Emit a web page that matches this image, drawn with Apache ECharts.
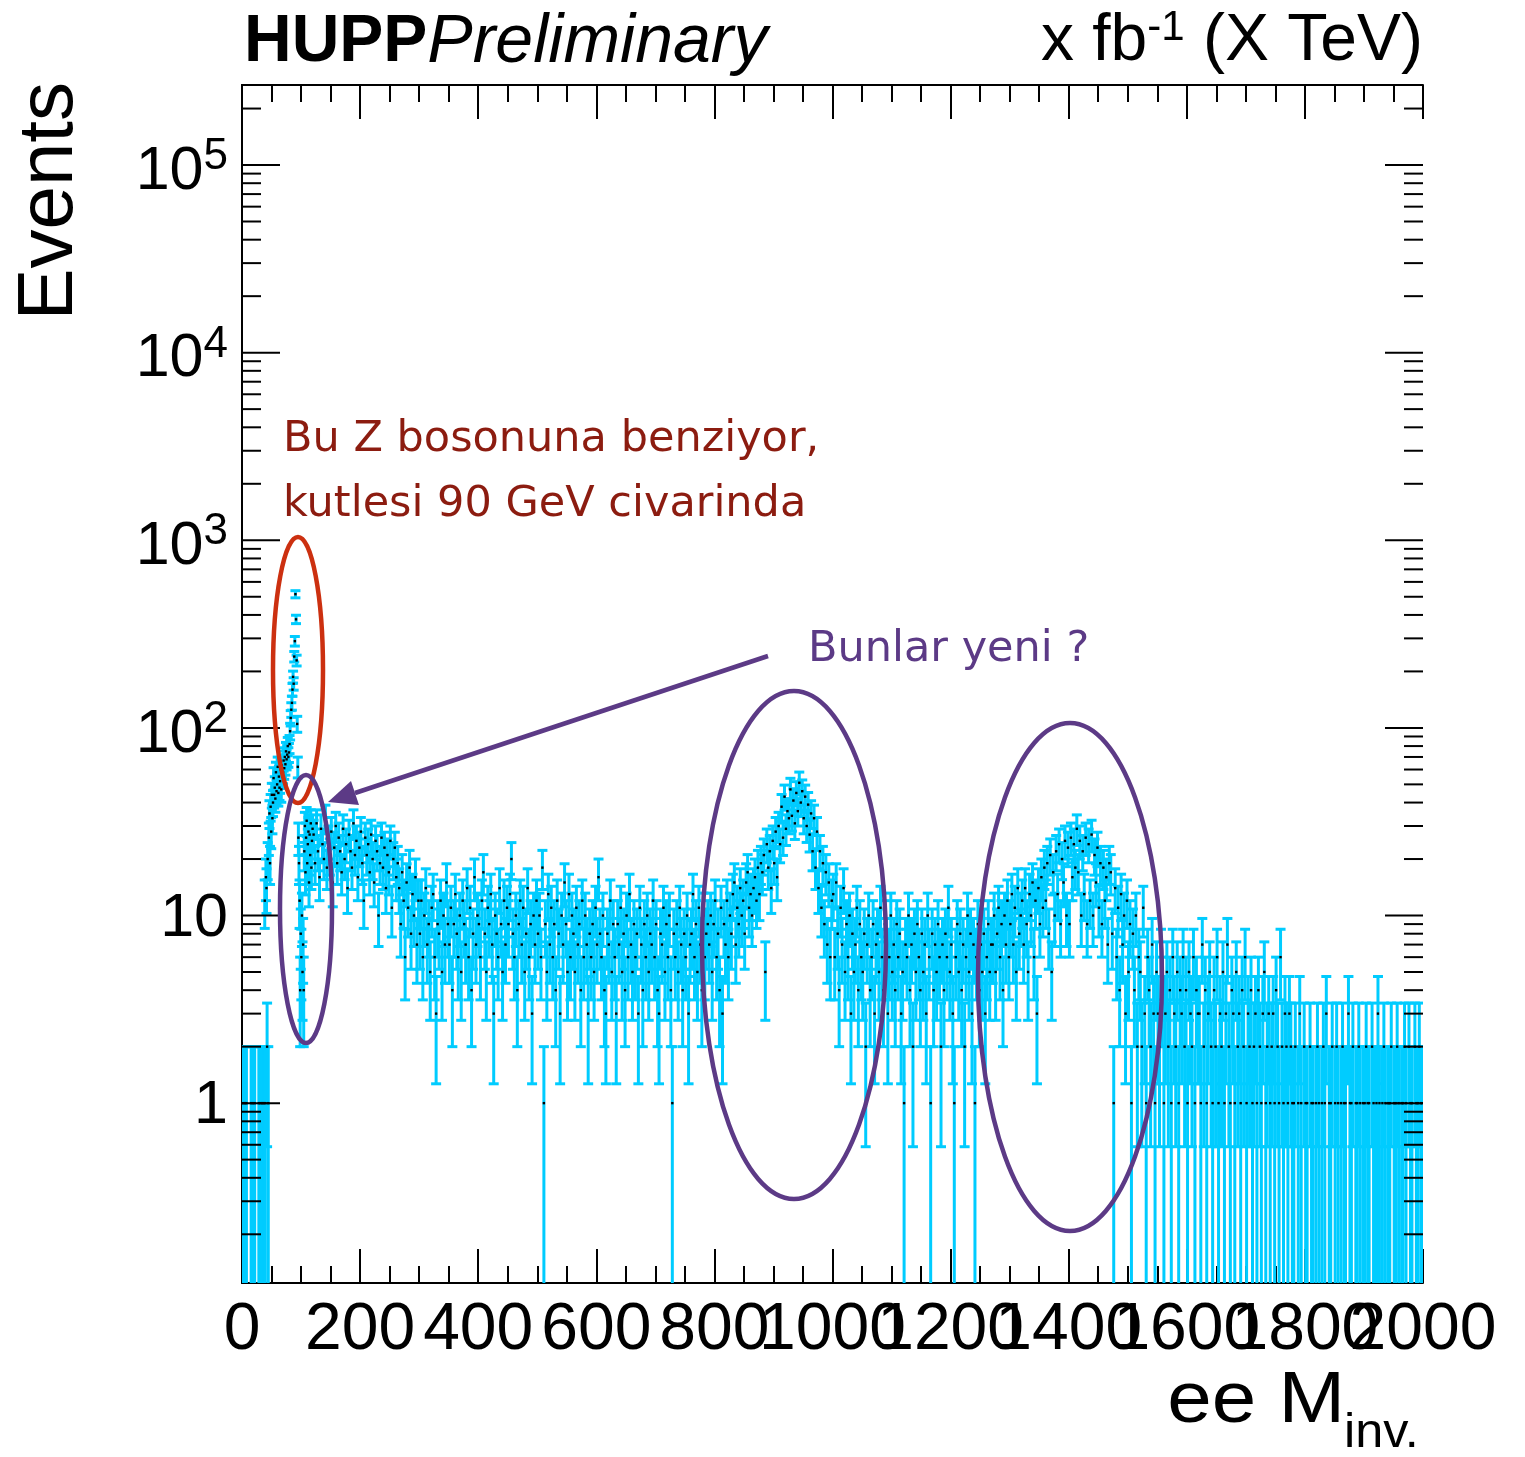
<!DOCTYPE html>
<html>
<head>
<meta charset="utf-8">
<title>ee M_inv.</title>
<script src="https://cdn.jsdelivr.net/npm/echarts@6/dist/echarts.min.js"></script>
<style>
  html, body { margin: 0; padding: 0; background: #fff; }
  #chart { width: 1525px; height: 1457px; }
</style>
</head>
<body>
<div id="chart"></div>
<script>
// event counts per bin (1 GeV bins below 120 GeV, 2.5 GeV bins above)
const countsLow = [ // 0-50 GeV
  1, 0, 1, 0, 0, 1, 0, 1, 0, 0, 0, 0, 0, 0, 0, 1, 0, 0, 1, 0,
  0, 1, 0, 0, 0, 0, 0, 0, 1, 0, 0, 1, 0, 0, 1, 0, 1, 0, 12, 1,
  16, 14, 2, 20, 1, 26, 35, 19, 38, 28
];
const countsZ = [ // 50-120 GeV
  44, 33, 40, 54, 44, 48, 42, 58, 46, 50, 62, 45, 55, 48, 52, 60, 47, 63, 55, 58,
  67, 61, 70, 64, 75, 68, 72, 80, 70, 74, 82, 96, 113, 125, 136, 160, 187, 172, 240, 290,
  516, 379, 229, 105, 62, 26, 19, 12, 4, 8, 6, 10, 5, 7, 4, 22, 30, 17, 26, 32,
  19, 24, 28, 15, 27, 21, 31, 18, 25, 29
];
const countsDY = [ // 120-560 GeV
  27, 19, 31, 22, 16, 29, 24, 20, 33, 18, 25, 21, 28, 15, 23, 30, 19, 26, 22, 17,
  29, 20, 24, 14, 27, 22, 18, 31, 21, 25, 16, 23, 28, 19, 12, 26, 21, 24, 17, 27,
  20, 15, 25, 22, 10, 19, 26, 18, 23, 14, 21, 17, 25, 11, 20, 23, 16, 19,
  14, 9, 17, 12, 6, 15, 11, 18, 8, 13, 10, 16, 7, 12,
  8, 12, 6, 10, 14, 7, 9, 5, 11, 13, 6, 3, 9, 8, 12, 5, 10, 7, 15, 9,
  7, 11, 4, 9, 13, 8, 6, 10, 5, 12, 9, 7, 14, 6, 11, 4, 8, 16, 7, 10,
  9, 6, 12, 17, 8, 5, 11, 9, 13, 7, 3, 10, 8, 6, 14, 9, 5, 12, 7, 11,
  9, 13, 20, 8, 6, 10, 4, 9, 12, 7, 11, 5, 8, 14, 6, 9, 3, 10, 7, 12,
  8, 10, 6, 18, 1, 9, 5, 13, 7, 11, 6, 9, 4, 12, 8, 3, 10, 7, 15, 9,
  5, 13, 6, 10
];
const countsFlat1 = [ // 560-790 GeV
  8, 5, 11, 7, 9, 4, 12, 6, 10, 7, 3, 8, 6, 9, 5, 11, 7, 16, 8, 6,
  10, 4, 3, 8, 7, 12, 5, 9, 6, 3, 9, 7, 11, 5, 8, 4, 10, 6, 13, 7,
  5, 9, 6, 8, 3, 11, 7, 4, 9, 6, 10, 5, 8, 7, 12, 6, 9, 4, 3, 8,
  7, 11, 5, 9, 6, 10, 4, 1, 8, 6, 9, 5, 11, 7, 4, 8, 6, 10, 3, 7,
  8, 13, 6, 9, 5, 11, 7, 4, 10, 6, 8, 9
];
const countsBumpA = [ // 790-1000 GeV
  7, 10, 5, 9, 12, 6, 8, 4, 11, 3, 9, 7, 12, 6, 10, 8, 13, 15, 7, 11,
  9, 14, 10, 12, 8, 15, 17, 11, 13, 10, 14, 16, 12, 18, 13, 19,
  17, 21, 5, 24, 18, 22, 14, 25, 19, 28, 16, 30, 24, 38, 26, 43, 29, 36, 33, 47,
  34, 41, 31, 45, 36, 51, 40, 46, 33, 43, 30, 39, 27, 35, 22, 33, 18, 28, 14, 22,
  11, 19, 9, 17, 7, 15, 6, 12
];
const countsFlat2 = [ // 1000-1270 GeV
  13, 6, 15, 8, 4, 11, 7, 14, 5, 9, 6, 10, 3, 8, 5, 7, 11, 4, 9, 6,
  5, 8, 2, 7, 10, 4, 6, 9, 3, 7, 8, 5, 11, 6, 4, 9, 7, 3, 6, 10,
  5, 7, 4, 9, 6, 8, 3, 5, 1, 7, 6, 10, 4, 7, 2, 8, 5, 9, 6, 4,
  8, 5, 7, 3, 10, 6, 1, 8, 4, 7, 5, 9, 6, 2, 7, 4, 8, 6, 11, 5,
  7, 3, 1, 6, 9, 5, 8, 4, 7, 2, 6, 10, 5, 8, 3, 7, 1, 6, 9, 4,
  7, 5, 8, 3, 6, 9, 5, 7
];
const countsBumpB = [ // 1270-1520 GeV
  7, 10, 5, 8, 11, 6, 9, 4, 10, 7, 12, 6, 9, 13, 7, 11, 5, 14, 8, 10,
  12, 7, 14, 9, 5, 13, 10, 15, 6, 12, 3, 14, 9, 16, 11, 18,
  12, 19, 8, 21, 5, 17, 10, 22, 13, 24, 9, 20, 15, 25, 10, 23, 9, 26, 16, 24,
  18, 29, 17, 25, 10, 22, 13, 26, 9, 24, 12, 27, 10, 21, 15, 23, 11, 19, 9, 18,
  12, 16, 7, 19,
  17, 8, 1, 14, 6, 11, 4, 13, 7, 10, 3, 12, 5, 9, 1, 8, 4, 10, 2, 6
];
const countsTail = [ // 1520-2000 GeV
  5, 2, 11, 3, 1, 6, 4, 2, 7, 3, 1, 5, 3, 2, 6, 4, 1, 3, 5, 2,
  4, 1, 6, 3, 2, 5, 1, 4, 3, 6, 2, 4, 1, 5, 3, 2, 6, 1, 4, 3,
  3, 1, 7, 2, 4, 1, 3, 5, 2, 1, 4, 2, 6, 1, 3, 2, 5, 1, 3, 7,
  2, 1, 4, 3, 1, 5, 2, 3, 1, 4, 2, 6, 1, 3, 2, 4, 1, 2, 3, 1,
  4, 2, 1, 3, 5, 1, 2, 3, 1, 2, 3, 1, 4, 2, 1, 6, 2, 1, 3, 2,
  1, 3, 2, 1,
  1, 2, 0, 1, 3, 1, 0, 2, 1, 1, 0, 2, 1, 1, 0, 1, 2, 1, 0, 1,
  2, 1, 3, 0, 1, 1, 2, 0, 1, 2, 1, 0, 1, 2, 1, 1, 0, 3, 1, 1,
  2, 0, 1, 1, 2, 1, 0, 1, 1, 2, 1, 1, 0, 2, 1, 0, 1, 3, 1, 0,
  1, 2, 1, 0, 1, 1, 2, 0, 1, 1, 2, 1, 0, 1, 1, 2, 1, 0, 2, 1,
  1, 0, 2, 1, 1, 2, 1, 1
];
// [first bin low edge (GeV), bin width (GeV), counts]
const segments = [
  [0, 1, countsLow], [50, 1, countsZ], [120, 2.5, countsDY], [560, 2.5, countsFlat1],
  [790, 2.5, countsBumpA], [1000, 2.5, countsFlat2], [1270, 2.5, countsBumpB], [1520, 2.5, countsTail]
];
const xTicks = [0, 200, 400, 600, 800, 1000, 1200, 1400, 1600, 1800, 2000];
const yMin = 0.11, yMax = 267000;

const CYAN = '#00ccff';
const FONT = '"Liberation Sans", Arial, Helvetica, sans-serif';
const HAND = '"Comic Sans MS", "DejaVu Sans", sans-serif';

const histData = [];
segments.forEach(([start, width, counts]) => {
  counts.forEach((n, i) => histData.push([start + width * (i + 0.5), n]));
});

const chart = echarts.init(document.getElementById('chart'));

function errorBar(params, api) {
  const x = api.value(0), n = api.value(1);
  if (!n) return null;
  const err = Math.sqrt(n);
  const low = n - err;
  const clipped = low < yMin;
  const top = api.coord([x, n + err]);
  const bot = api.coord([x, clipped ? yMin : low]);
  const style = { stroke: CYAN, lineWidth: 3 };
  const half = 5;
  const children = [
    { type: 'line', shape: { x1: top[0], y1: top[1], x2: bot[0], y2: bot[1] + (clipped ? 3 : 0) }, style },
    { type: 'line', shape: { x1: top[0] - half, y1: top[1], x2: top[0] + half, y2: top[1] }, style }
  ];
  if (!clipped) {
    children.push({ type: 'line', shape: { x1: bot[0] - half, y1: bot[1], x2: bot[0] + half, y2: bot[1] }, style });
  }
  return { type: 'group', children };
}

function marker(params, api) {
  const n = api.value(1);
  if (!n) return null;
  const p = api.coord([api.value(0), n]);
  return { type: 'rect', shape: { x: p[0] - 1.2, y: p[1] - 1.2, width: 2.4, height: 2.4 }, style: { fill: '#000' } };
}

const axisLineStyle = { color: '#000', width: 2 };
const tickStyle = { color: '#000', width: 2 };

// labels alternate between two bottom axes so that ECharts keeps every one of them
function xAxisDef(position, labelParity, drawAxis) {
  return {
    type: 'value', min: 0, max: 2000, interval: 200, position,
    axisLine: { show: drawAxis, lineStyle: axisLineStyle },
    axisTick: { show: drawAxis, inside: true, length: 34, lineStyle: tickStyle },
    minorTick: { show: drawAxis, splitNumber: 4, length: 17, lineStyle: tickStyle },
    splitLine: { show: false },
    axisLabel: {
      show: labelParity !== null, fontSize: 66, fontFamily: FONT, color: '#000', margin: 15,
      showMinLabel: true, showMaxLabel: true, hideOverlap: false,
      formatter: v => (xTicks.indexOf(v) >= 0 && (v / 200) % 2 === labelParity ? String(v) : '')
    }
  };
}

function yAxisDef(position, showLabel) {
  return {
    type: 'log', logBase: 10, min: yMin, max: yMax, position,
    axisLine: { lineStyle: axisLineStyle },
    axisTick: { show: false },
    splitLine: { show: false },
    axisLabel: {
      show: showLabel, fontSize: 60, fontFamily: FONT, color: '#000', margin: 14,
      formatter: v => {
        const lg = Math.log10(v), e = Math.round(lg);
        if (Math.abs(lg - e) > 1e-6) return '';
        if (e === 0) return '{p|1}';
        if (e === 1) return '{p|10}';
        return '{b|10}{s|' + e + '}';
      },
      rich: {
        p: { fontSize: 61, lineHeight: 60, padding: [7, 0, 0, 0], fontFamily: FONT, color: '#000' },
        b: { fontSize: 61, lineHeight: 60, padding: [14, 0, 0, 0], fontFamily: FONT, color: '#000' },
        s: { fontSize: 44, lineHeight: 42, verticalAlign: 'top', fontFamily: FONT, color: '#000' }
      }
    }
  };
}

chart.setOption({
  animation: false,
  backgroundColor: '#fff',
  textStyle: { fontFamily: FONT },
  title: [
    {
      text: '{b|HUPP}{i|Preliminary}', left: 244, top: 11, padding: 0,
      textStyle: {
        rich: {
          b: { fontSize: 66, lineHeight: 64, fontWeight: 'bold', fontFamily: FONT, color: '#000' },
          i: { fontSize: 68, lineHeight: 64, fontStyle: 'italic', fontWeight: 'normal', fontFamily: FONT, color: '#000' }
        }
      }
    },
    {
      text: '{n|x fb}{s|-1}{n| (X TeV)}', right: 102, top: 7, padding: 0,
      textStyle: {
        rich: {
          n: { fontSize: 66, lineHeight: 64, padding: [5, 0, 0, 0], fontWeight: 'normal', fontFamily: FONT, color: '#000' },
          s: { fontSize: 42, lineHeight: 40, verticalAlign: 'top', fontWeight: 'normal', fontFamily: FONT, color: '#000' }
        }
      }
    }
  ],
  grid: { left: 242, top: 85, width: 1181, height: 1198, containLabel: false },
  xAxis: [xAxisDef('bottom', 0, true), xAxisDef('top', null, true), xAxisDef('bottom', 1, false)],
  yAxis: [yAxisDef('left', true), yAxisDef('right', false)],
  series: [
    { type: 'custom', name: 'errors', data: histData, encode: { x: 0, y: 1 }, clip: true, z: 2, renderItem: errorBar },
    { type: 'custom', name: 'points', data: histData, encode: { x: 0, y: 1 }, clip: true, z: 3, renderItem: marker }
  ]
});

// ROOT-style ticks on the log axes, axis titles and the hand-drawn annotations
function line(x1, y1, x2, y2, stroke, w) {
  return { type: 'line', silent: true, z: 5, shape: { x1, y1, x2, y2 }, style: { stroke: stroke || '#000', lineWidth: w || 2 } };
}
const xl = chart.convertToPixel({ xAxisIndex: 0 }, 0);
const xr = chart.convertToPixel({ xAxisIndex: 0 }, 2000);
const decorations = [];
for (let e = -1; e <= 5; e++) {
  for (let m = 1; m <= 9; m++) {
    const v = m * Math.pow(10, e);
    if (v < yMin || v > yMax) continue;
    const y = chart.convertToPixel({ yAxisIndex: 0 }, v);
    const len = m === 1 ? 38 : 19;
    decorations.push(line(xl, y, xl + len, y), line(xr - len, y, xr, y));
  }
}

const RED = '#cc3010', DARKRED = '#8c1c10', PURPLE = '#5c3a86';
function ellipse(cx, cy, rx, ry, stroke) {
  return { type: 'ellipse', silent: true, z: 10, shape: { cx, cy, rx, ry }, style: { fill: 'none', stroke, lineWidth: 4.5 } };
}
function note(text, x, y, color, size) {
  return {
    type: 'text', silent: true, z: 10, x, y,
    style: { text, fill: color, font: size + 'px ' + HAND, align: 'left', verticalAlign: 'middle', textAlign: 'left', textVerticalAlign: 'middle' }
  };
}

decorations.push(
  ellipse(298, 670, 25, 133, RED),
  ellipse(306, 909, 26, 134, PURPLE),
  ellipse(794, 945, 92, 254, PURPLE),
  ellipse(1070, 977, 92, 254, PURPLE),
  Object.assign(line(768, 656, 355, 793, PURPLE, 4.5), { z: 10 }),
  {
    type: 'polygon', silent: true, z: 10,
    shape: { points: [[328, 802], [359, 805], [351, 781]] },
    style: { fill: PURPLE }
  },
  note('Bu Z bosonuna benziyor,', 283, 440, DARKRED, 43),
  note('kutlesi 90 GeV civarinda', 283, 505, DARKRED, 43),
  note('Bunlar yeni ?', 808, 650, PURPLE, 43),
  {
    type: 'text', silent: true, x: 50, y: 82, rotation: Math.PI / 2,
    style: { text: 'Events', fill: '#000', font: '78px ' + FONT, align: 'right', verticalAlign: 'middle', textAlign: 'right', textVerticalAlign: 'middle' }
  },
  {
    type: 'text', silent: true, x: 1345, y: 1402, scaleX: 1.11,
    style: { text: 'ee M', fill: '#000', font: '72px ' + FONT, align: 'right', verticalAlign: 'middle', textAlign: 'right', textVerticalAlign: 'middle' }
  },
  {
    type: 'text', silent: true, x: 1344, y: 1434, scaleX: 1.05,
    style: { text: 'inv.', fill: '#000', font: '48px ' + FONT, align: 'left', verticalAlign: 'middle', textAlign: 'left', textVerticalAlign: 'middle' }
  }
);

chart.setOption({ graphic: { elements: decorations } });
</script>
</body>
</html>
